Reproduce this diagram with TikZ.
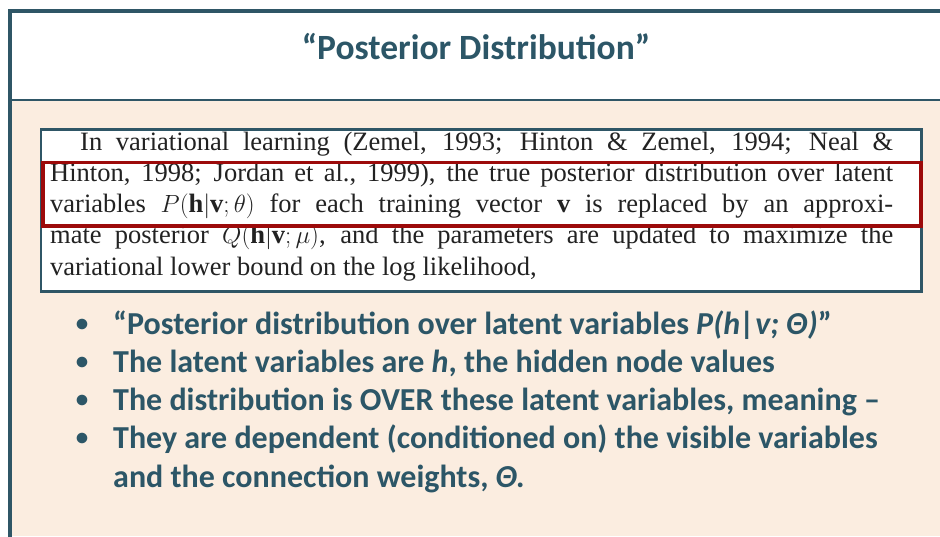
\documentclass[tikz,border=0pt]{standalone}
\usepackage{fontspec}
\setmainfont{Liberation Serif}
\newfontfamily\slidefont{Carlito}
\usetikzlibrary{positioning}
\definecolor{slideTeal}{HTML}{2F5666}
\definecolor{slideInk}{HTML}{2C5667}
\definecolor{slidePeach}{HTML}{FBEDE0}
\definecolor{markRed}{HTML}{9C0A0A}
\definecolor{quoteInk}{HTML}{222222}
\tikzset{
    frameline/.style={draw=slideTeal, line width=4pt, line join=miter},
    sepline/.style={draw=slideTeal, line width=2.5pt},
    titletext/.style={font=\slidefont\bfseries\fontsize{35.5}{42}\selectfont, text=slideInk, anchor=base, inner sep=0pt},
    quotebox/.style={draw=slideTeal, line width=2.5pt, fill=white, anchor=north west, inner sep=0pt},
    quotetext/.style={font=\fontsize{26.5}{31.3}\selectfont, text=quoteInk, text width=843pt, align=left, anchor=base west, inner sep=0pt},
    highlight/.style={draw=markRed, line width=3.5pt, anchor=north west, inner sep=0pt},
    bulletdot/.style={font=\slidefont\bfseries\fontsize{25}{30}\selectfont, text=slideInk, anchor=center, inner sep=0pt},
    bullettext/.style={font=\slidefont\bfseries\fontsize{32}{38}\selectfont, text=slideInk, anchor=base west, inner sep=0pt}
}
\begin{document}
\begin{tikzpicture}[x=1pt, y=-1pt]
\useasboundingbox (0,0) rectangle (940,536);
\fill[white] (0,0) rectangle (940,536);
\fill[slidePeach] (10,100) rectangle (940,536);
% slide frame
\draw[frameline] (10,540) -- (10,11) -- (945,11);
\draw[sepline] (10,100) -- (945,100);
\node[titletext] (title) at (476,59) {“Posterior Distribution”};
% quoted paragraph
\node[quotebox, minimum width=880.5pt, minimum height=162pt] (quote) at (39.5,128) {};
\node[quotetext] (para) at (50,150) {\spaceskip=0pt \xspaceskip=0pt
\makebox[843pt][s]{\hspace{30pt}In variational learning (Zemel, 1993; Hinton \& Zemel, 1994; Neal \&}\\
\makebox[843pt][s]{Hinton, 1998; Jordan et al., 1999), the true posterior distribution over latent}\\
\makebox[843pt][s]{variables $P(\mathbf{h}|\mathbf{v};\theta)$ for each training vector $\mathbf{v}$ is replaced by an approxi-}\\
\makebox[843pt][s]{mate posterior $Q(\mathbf{h}|\mathbf{v};\mu)$, and the parameters are updated to maximize the}\\
variational lower bound on the log likelihood,};
\node[highlight, minimum width=878pt, minimum height=63.5pt] (mark) at (41,160.5) {};
% bullet points
\node[bulletdot] (d1) at (82,325) {•};
\node[bulletdot] (d2) at (82,363) {•};
\node[bulletdot] (d3) at (82,401.5) {•};
\node[bulletdot] (d4) at (82,439.5) {•};
\node[bullettext] (b1) at (113,334) {“Posterior distribution over latent variables \textit{P(h|v; Θ)}”};
\node[bullettext] (b2) at (113,372) {The latent variables are \textit{h}, the hidden node values};
\node[bullettext] (b3) at (113,410.5) {The distribution is OVER these latent variables, meaning –};
\node[bullettext] (b4) at (113,448.5) {They are dependent (conditioned on) the visible variables};
\node[bullettext] (b5) at (113,487) {and the connection weights, \textit{Θ.}};
\end{tikzpicture}
\end{document}
